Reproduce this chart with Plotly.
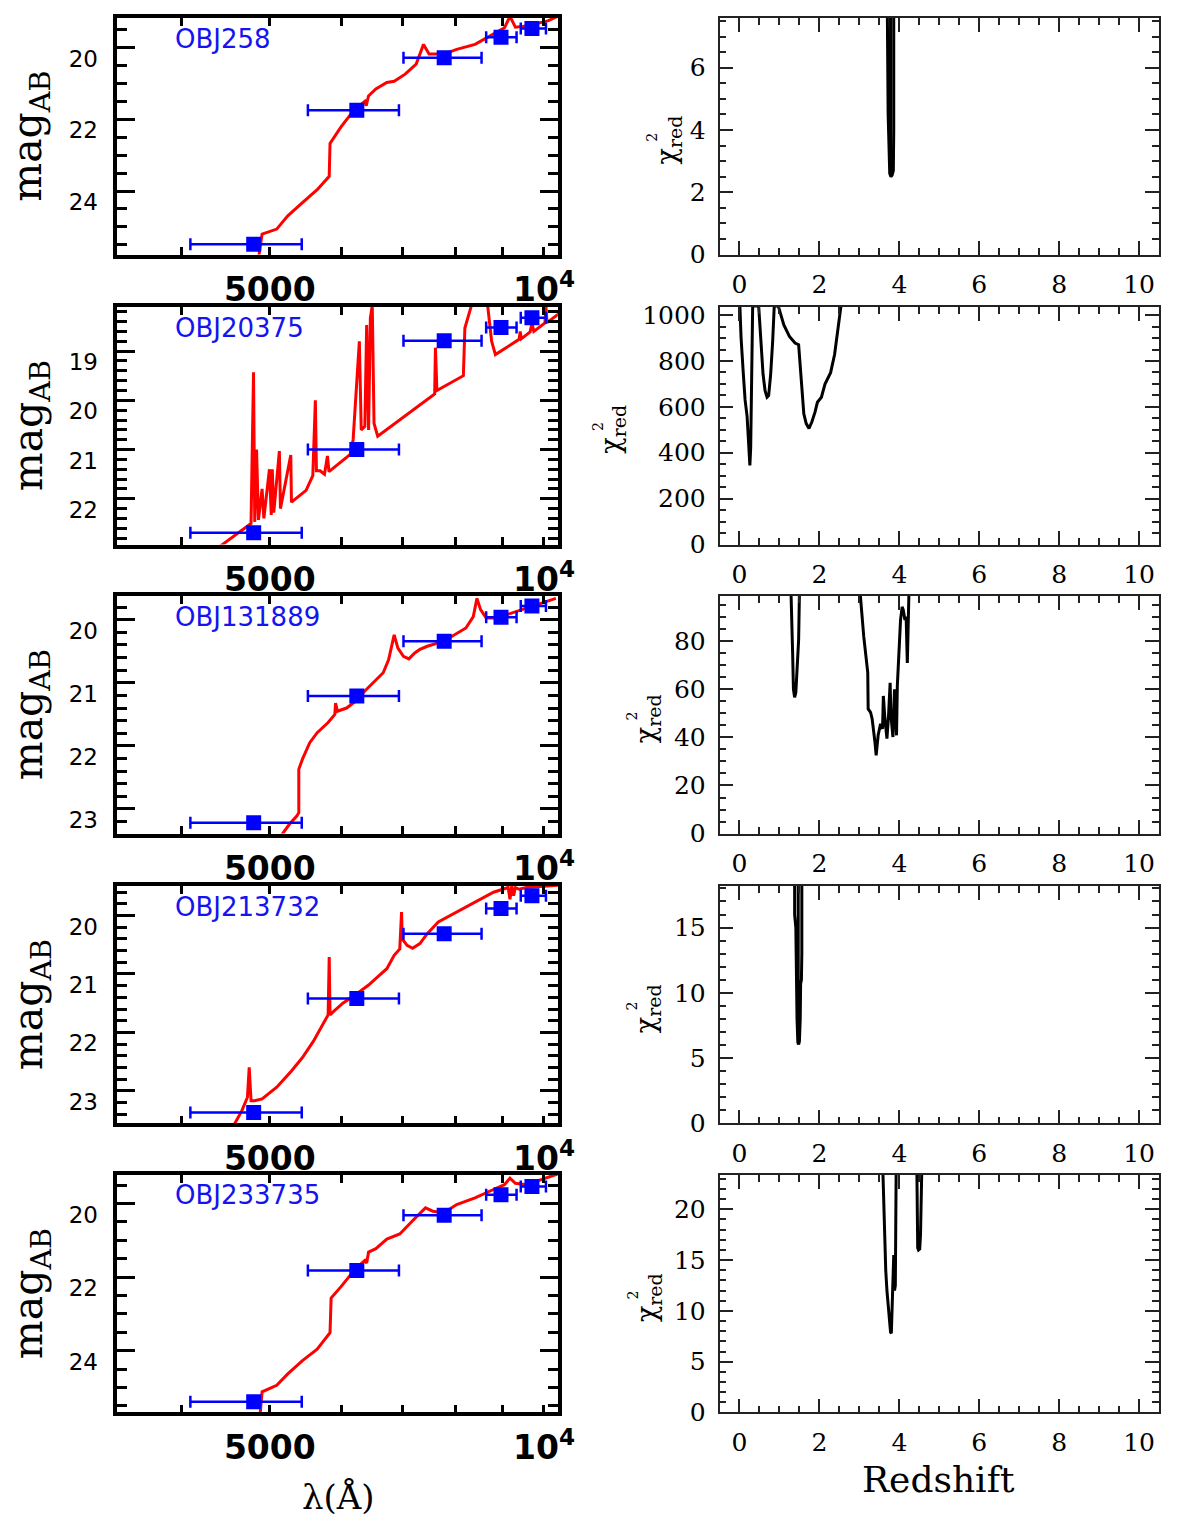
import math
import plotly.graph_objects as go

W, H = 1182, 1534

# ---------------- data ----------------
obj_names = ["OBJ258", "OBJ20375", "OBJ131889", "OBJ213732", "OBJ233735"]

band_wave = [4800, 6230, 7770, 8970, 9700]
band_lo = [4090, 5505, 7010, 8640, 9430]
band_hi = [5420, 6930, 8540, 9330, 10050]

mag_obj258 = [25.48, 21.75, 20.28, 19.71, 19.47]
mag_obj20375 = [22.69, 21.00, 18.79, 18.52, 18.32]
mag_obj131889 = [23.22, 21.21, 20.34, 19.96, 19.78]
mag_obj213732 = [23.37, 21.42, 20.31, 19.88, 19.66]
mag_obj233735 = [25.39, 21.82, 20.32, 19.76, 19.54]

sed258_wave = [4858, 4903, 5088, 5232, 5430, 5636, 5810, 5822, 5986, 6184, 6358, 6380, 6417, 6537,
               6721, 6847, 7040, 7239, 7374, 7479, 7763, 8020, 8400, 8719, 9048, 9176, 9303, 9565,
               10115, 10400]
sed258_mag = [25.89, 25.20, 25.06, 24.69, 24.32, 23.96, 23.59, 22.67, 22.21, 21.75, 21.50, 21.62, 21.35,
              21.15, 20.97, 20.94, 20.74, 20.46, 19.91, 20.18, 20.18, 20.05, 19.91, 19.68, 19.45, 19.13,
              19.43, 19.40, 19.25, 19.10]

sed20375_wave = [4406, 4768, 4798, 4813, 4835, 4858, 4903, 4925, 4995, 5018, 5031, 5050, 5122, 5136,
                 5272, 5281, 5480, 5574, 5610, 5625, 5678, 5741, 5784, 5806, 6127, 6172, 6270, 6300,
                 6358, 6387, 6418, 6447, 6478, 6507, 6568, 7585, 7600, 7628, 8156, 8187, 8325, 8403,
                 8640, 8679, 8760, 8844, 9391, 9417, 9443, 9656, 9702, 9746, 10023, 10050, 10078, 10400]
sed20375_mag = [22.97, 22.50, 19.43, 22.47, 21.00, 22.43, 21.80, 22.40, 21.40, 22.33, 21.40, 22.28,
                21.03, 22.20, 21.11, 22.07, 21.83, 21.53, 20.00, 21.43, 21.43, 21.50, 21.13, 21.45,
                21.10, 20.80, 18.80, 20.60, 20.53, 18.47, 20.60, 18.33, 18.07, 20.47, 20.73, 19.87,
                18.93, 19.80, 19.50, 18.53, 18.07, 17.80, 17.80, 18.10, 18.80, 19.07, 18.76, 18.60,
                18.75, 18.61, 18.43, 18.60, 18.43, 18.10, 18.42, 18.23]

sed131889_wave = [5111, 5256, 5355, 5380, 5380, 5430, 5531, 5636, 5794, 5893, 5904, 5932, 6071, 6212,
                  6358, 6537, 6660, 6752, 6816, 6847, 6912, 7009, 7107, 7207, 7307, 7444, 7763, 7983,
                  8209, 8363, 8441, 8519, 8640, 8884, 9219, 9565, 9928, 10305]
sed131889_mag = [23.48, 23.24, 23.11, 23.06, 22.37, 22.21, 21.95, 21.79, 21.63, 21.50, 21.32, 21.45,
                 21.40, 21.29, 21.13, 20.95, 20.84, 20.63, 20.39, 20.24, 20.45, 20.58, 20.62, 20.53,
                 20.47, 20.42, 20.34, 20.24, 20.13, 19.95, 19.66, 19.84, 19.97, 19.97, 19.89, 19.82,
                 19.74, 19.66]

sed213732_wave = [4573, 4659, 4725, 4746, 4768, 4813, 4903, 5088, 5281, 5430, 5583, 5741, 5794, 5810,
                  5822, 5876, 6014, 6241, 6418, 6599, 6721, 6847, 6945, 6976, 6988, 7074, 7173, 7307,
                  7444, 7655, 8020, 8400, 8802, 9134, 9176, 9219, 9261, 9303, 9391, 9565, 10115, 10400]
sed213732_mag = [23.57, 23.34, 23.11, 22.60, 23.17, 23.17, 23.14, 22.94, 22.66, 22.43, 22.15, 21.81,
                 21.70, 20.71, 21.70, 21.64, 21.50, 21.33, 21.19, 21.02, 20.91, 20.68, 20.57, 19.94,
                 20.40, 20.51, 20.56, 20.48, 20.31, 20.11, 19.94, 19.77, 19.60, 19.52, 19.72, 19.49,
                 19.66, 19.52, 19.55, 19.52, 19.49, 19.48]

sed233735_wave = [4880, 4903, 5088, 5232, 5430, 5636, 5822, 5838, 5986, 6212, 6358, 6387, 6418, 6537,
                  6721, 6945, 7173, 7411, 7550, 7763, 8020, 8400, 8802, 9048, 9176, 9303, 9565, 9928,
                  10209, 10400]
sed233735_mag = [25.70, 25.12, 24.94, 24.63, 24.27, 23.96, 23.51, 22.57, 22.26, 21.77, 21.55, 21.62,
                 21.32, 21.23, 20.97, 20.83, 20.47, 20.12, 20.21, 20.25, 20.03, 19.85, 19.62, 19.49,
                 19.31, 19.45, 19.49, 19.36, 19.25, 19.18]

chi258_z = [3.70, 3.70, 3.71, 3.72, 3.74, 3.76, 3.79, 3.82, 3.85, 3.86, 3.86, 3.78, 3.78]
chi258_v = [7.8, 6.9, 6.1, 4.5, 3.0, 2.6, 2.5, 2.55, 2.7, 4.0, 7.8, 7.8, 2.6]

chi20375_z = [0.01, 0.04, 0.09, 0.14, 0.19, 0.24, 0.26, 0.28, 0.30, 0.33, 0.48, 0.54, 0.59, 0.64,
              0.69, 0.73, 0.78, 0.83, 0.87, 0.97, 1.11, 1.25, 1.39, 1.48, 1.53, 1.61, 1.67, 1.74,
              1.81, 1.89, 1.95, 2.05, 2.14, 2.21, 2.28, 2.38, 2.47, 2.54]
chi20375_v = [1040, 900, 760, 630, 560, 420, 345, 420, 700, 1040, 1040, 885, 742, 670, 642, 649,
              742, 885, 1040, 1040, 957, 907, 878, 871, 742, 570, 527, 506, 534, 577, 620, 642,
              699, 725, 749, 828, 943, 1040]

chi131889_z = [1.29, 1.31, 1.33, 1.35, 1.38, 1.41, 1.45, 1.48, 1.50, None,
               3.02, 3.11, 3.21, 3.22, 3.28, 3.32, 3.39, 3.42, 3.47, 3.53, 3.58, 3.60, 3.64, 3.69,
               3.73, 3.77, 3.79, 3.84, 3.88, 3.91, 3.93, 3.95, 3.97, 4.01, 4.03, 4.07, 4.10, 4.14,
               4.17, 4.20, 4.22, 4.24]
chi131889_v = [100, 90.3, 75.2, 60.1, 56.7, 58.7, 69.7, 80.7, 100, None,
               100, 82, 67, 51.9, 50.5, 47.7, 38.1, 32.6, 40.9, 45.7, 43.6, 57.3, 47.7, 39.5,
               49.1, 62.8, 49.1, 40.2, 60.1, 50.5, 40.9, 61.5, 68.3, 76.5, 88.9, 94.4, 93.0, 88.9,
               90.3, 71.0, 82.0, 100]

chi213732_z = [1.38, 1.38, 1.41, 1.42, 1.44, 1.46, 1.48, 1.50, 1.52, 1.53, 1.55, 1.56, 1.56, 1.47, 1.47]
chi213732_v = [18.5, 16.0, 15.0, 10.0, 8.0, 6.2, 6.05, 6.3, 8.0, 10.7, 11.0, 13.0, 18.5, 18.5, 6.3]

chi233735_z = [3.59, 3.61, 3.63, 3.66, 3.69, 3.72, 3.75, 3.78, 3.80, 3.82, 3.84, 3.86, 3.88, 3.90,
               3.91, 3.92, None, 4.44, 4.45, 4.46, 4.48, 4.51, 4.53, 4.55, 4.56]
chi233735_v = [23.5, 20.2, 16.5, 14.0, 12.0, 10.5, 9.0, 7.9, 7.8, 10.0, 13.0, 15.5, 12.0, 12.5,
               18.0, 23.5, None, 23.5, 21.5, 16.2, 16.0, 16.1, 17.5, 20.0, 23.5]

lam_tickvals = [5000, 10000]
lam_ticktext = ["5000", "10<sup>4</sup>"]

panels = [
    (mag_obj258, sed258_wave, sed258_mag, chi258_z, chi258_v),
    (mag_obj20375, sed20375_wave, sed20375_mag, chi20375_z, chi20375_v),
    (mag_obj131889, sed131889_wave, sed131889_mag, chi131889_z, chi131889_v),
    (mag_obj213732, sed213732_wave, sed213732_mag, chi213732_z, chi213732_v),
    (mag_obj233735, sed233735_wave, sed233735_mag, chi233735_z, chi233735_v),
]

# ---------------- layout geometry ----------------
rows_top = [12, 305, 598, 892, 1185]
rows_bot = [252, 546, 839, 1133, 1426]
LX0, LX1 = 119, 566
RX0, RX1 = 730, 1176

mag_ranges = [[25.77, 19.17], [22.93, 18.10], [23.39, 19.62], [23.56, 19.49], [25.68, 19.22]]
mag_dtick = [2, 1, 1, 1, 2]
mag_minor = [0.5, 0.2, 0.2, 0.2, 0.5]
chi_ranges = [[0, 7.6], [0, 1036], [0, 99], [0, 18.2], [0, 23.4]]
chi_dtick = [2, 200, 20, 5, 5]
chi_minor = [0.5, 50, 5, 1, 1]
chi_title_x = [676, 620, 655, 655, 656]

BLUE = "#0000ff"
fig = go.Figure()
layout = dict(width=W, height=H, margin=dict(l=0, r=0, t=0, b=0),
              paper_bgcolor="white", plot_bgcolor="white", showlegend=False,
              hovermode=False, font=dict(family="DejaVu Sans", color="black"))
annotations = []


def nm(n, letter):
    return f"{letter}axis" if n == 1 else f"{letter}axis{n}"


def rf(n, letter):
    return letter if n == 1 else f"{letter}{n}"


for i, (mags, sw, sm, cz, cv) in enumerate(panels):
    nl, nr = 2 * i + 1, 2 * i + 2
    ydom = [1 - rows_bot[i] / H, 1 - rows_top[i] / H]
    # SED curve
    fig.add_trace(go.Scatter(x=sw, y=sm, mode="lines", line=dict(color="#ff0000", width=3),
                             xaxis=rf(nl, "x"), yaxis=rf(nl, "y")))
    # photometry
    fig.add_trace(go.Scatter(
        x=band_wave, y=mags, mode="markers",
        marker=dict(symbol="square", size=15, color=BLUE),
        error_x=dict(type="data", symmetric=False,
                     array=[h - w for h, w in zip(band_hi, band_wave)],
                     arrayminus=[w - l for w, l in zip(band_wave, band_lo)],
                     color=BLUE, thickness=2.5, width=6),
        xaxis=rf(nl, "x"), yaxis=rf(nl, "y")))
    # chi2 curve
    fig.add_trace(go.Scatter(x=cz, y=cv, mode="lines", line=dict(color="black", width=3),
                             xaxis=rf(nr, "x"), yaxis=rf(nr, "y")))

    layout[nm(nl, "x")] = dict(
        domain=[LX0 / W, LX1 / W], anchor=rf(nl, "y"), type="log",
        range=[math.log10(3400), math.log10(10357)],
        tickmode="array", tickvals=lam_tickvals, ticktext=lam_ticktext,
        ticks="inside", ticklen=8, tickwidth=2.5, tickcolor="black",
        minor=dict(dtick="D1", ticks="inside", ticklen=8, tickwidth=2.5,
                   tickcolor="black", showgrid=False),
        mirror="allticks", showline=True, linewidth=3.5, linecolor="black",
        showgrid=False, zeroline=False, ticklabelstandoff=3,
        tickfont=dict(family="DejaVu Sans", size=33, color="black", weight="bold"))
    layout[nm(nl, "y")] = dict(
        domain=ydom, anchor=rf(nl, "x"), range=mag_ranges[i],
        tick0=0, dtick=mag_dtick[i], ticks="inside", ticklen=18, tickwidth=2.5, tickcolor="black",
        minor=dict(dtick=mag_minor[i], tick0=0, ticks="inside", ticklen=10, tickwidth=2.5,
                   tickcolor="black", showgrid=False),
        mirror="allticks", showline=True, linewidth=3.5, linecolor="black",
        showgrid=False, zeroline=False, ticklabelstandoff=11, ticklabelshift=-11,
        tickfont=dict(family="DejaVu Sans", size=23, color="black"))
    layout[nm(nr, "x")] = dict(
        domain=[RX0 / W, RX1 / W], anchor=rf(nr, "y"), range=[-0.5, 10.5],
        tick0=0, dtick=2, ticks="inside", ticklen=14, tickwidth=1.5, tickcolor="#222",
        minor=dict(dtick=0.5, tick0=0, ticks="inside", ticklen=7, tickwidth=1.5,
                   tickcolor="#222", showgrid=False),
        mirror="allticks", showline=True, linewidth=1.5, linecolor="#222",
        showgrid=False, zeroline=False, ticklabelstandoff=7,
        tickfont=dict(family="DejaVu Serif", size=25, color="black"))
    layout[nm(nr, "y")] = dict(
        domain=ydom, anchor=rf(nr, "x"), range=chi_ranges[i],
        tick0=0, dtick=chi_dtick[i], ticks="inside", ticklen=14, tickwidth=1.5, tickcolor="#222",
        minor=dict(dtick=chi_minor[i], tick0=0, ticks="inside", ticklen=7, tickwidth=1.5,
                   tickcolor="#222", showgrid=False),
        mirror="allticks", showline=True, linewidth=1.5, linecolor="#222",
        showgrid=False, zeroline=False, ticklabelstandoff=7,
        tickfont=dict(family="DejaVu Serif", size=25, color="black"))

    yc = (rows_top[i] + rows_bot[i]) / 2
    annotations.append(dict(text=obj_names[i], x=176 / W, y=1 - (rows_top[i] + 21) / H,
                            xref="paper", yref="paper", xanchor="left", yanchor="middle",
                            showarrow=False, font=dict(family="DejaVu Sans", size=26, color="#1414f0")))
    annotations.append(dict(text="mag<sub>AB</sub>", x=31 / W, y=1 - yc / H, textangle=-90,
                            xref="paper", yref="paper", xanchor="center", yanchor="middle",
                            showarrow=False, font=dict(family="DejaVu Serif", size=41, color="black")))
    cx = chi_title_x[i]
    annotations.append(dict(text="χ<sub>red</sub>", x=(cx + 2) / W, y=1 - (yc + 4) / H, textangle=-90,
                            xref="paper", yref="paper", xanchor="center", yanchor="middle",
                            showarrow=False, font=dict(family="DejaVu Serif", size=27, color="black")))
    annotations.append(dict(text="2", x=(cx - 14) / W, y=1 - (yc + 1) / H, textangle=-90,
                            xref="paper", yref="paper", xanchor="center", yanchor="middle",
                            showarrow=False, font=dict(family="DejaVu Serif", size=14, color="black")))

annotations.append(dict(text="λ(Å)", x=343 / W, y=1 - 1512 / H, xref="paper", yref="paper",
                        xanchor="center", yanchor="middle", showarrow=False,
                        font=dict(family="DejaVu Serif", size=34, color="black")))
annotations.append(dict(text="Redshift", x=952 / W, y=1 - 1494 / H, xref="paper", yref="paper",
                        xanchor="center", yanchor="middle", showarrow=False,
                        font=dict(family="DejaVu Serif", size=36, color="black")))
layout["annotations"] = annotations
fig.update_layout(**layout)
fig.write_html("out.html")
